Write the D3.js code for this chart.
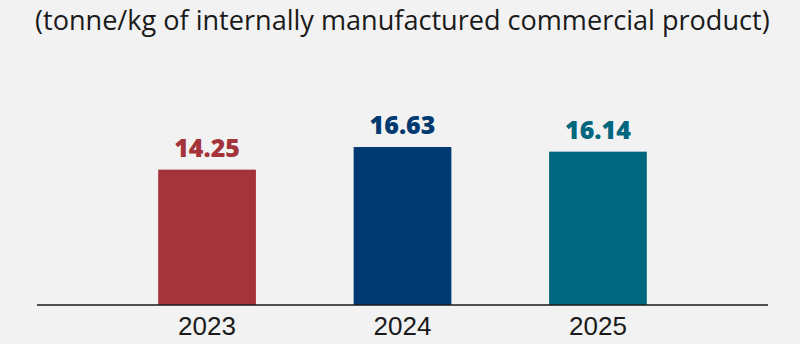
<!DOCTYPE html>
<html>
<head>
<meta charset="utf-8">
<script src="https://cdn.jsdelivr.net/npm/d3@7"></script>
<style>
  body { margin: 0; background: #f2f2f2; }
  svg { display: block; }
</style>
</head>
<body>
<svg width="800" height="344"></svg>
<script>
var years = ["2023", "2024", "2025"];
var values = [14.25, 16.63, 16.14];
var colors = ["#a4343a", "#003a70", "#00677f"];
var subtitle = "(tonne/kg of internally manufactured commercial product)";

var svg = d3.select("svg"),
    baseY = 305,
    left = 37,
    right = 768;

svg.append("rect")
  .attr("width", 800)
  .attr("height", 344)
  .attr("fill", "#f2f2f2");

// subtitle, squeezed to the same width as the reference
var title = svg.append("text")
  .attr("x", 35)
  .attr("y", 30)
  .attr("font-family", "'Open Sans', sans-serif")
  .attr("font-size", "24px")
  .attr("fill", "#1a1a1a")
  .text(subtitle);
var tw = title.node().getComputedTextLength();
title.attr("font-size", (24 * 735 / tw) + "px");

var x = d3.scaleBand()
  .domain(years)
  .range([left, right])
  .paddingInner(0.5)
  .paddingOuter(0.62);

var y = d3.scaleLinear()
  .domain([0, 20])
  .range([baseY, 115]);

var data = years.map(function(d, i) { return {year: d, value: values[i], color: colors[i]}; });

svg.selectAll(".bar")
  .data(data)
  .enter().append("rect")
  .attr("class", "bar")
  .attr("x", function(d) { return x(d.year); })
  .attr("y", function(d) { return y(d.value); })
  .attr("width", x.bandwidth())
  .attr("height", function(d) { return baseY - y(d.value); })
  .attr("fill", function(d) { return d.color; });

svg.selectAll(".val")
  .data(data)
  .enter().append("text")
  .attr("class", "val")
  .attr("x", function(d) { return x(d.year) + x.bandwidth() / 2; })
  .attr("y", function(d) { return y(d.value) - 13; })
  .attr("text-anchor", "middle")
  .attr("font-family", "'Open Sans', sans-serif")
  .attr("font-weight", "800")
  .attr("font-size", "25px")
  .attr("fill", function(d) { return d.color; })
  .text(function(d) { return d.value.toFixed(2); });

var xAxis = svg.append("g")
  .attr("transform", "translate(0," + baseY + ")")
  .call(d3.axisBottom(x).tickSize(0).tickPadding(12));

xAxis.select(".domain")
  .attr("d", "M" + left + ",0H" + right)
  .attr("stroke", "#1a1a1a")
  .attr("stroke-width", 1.5);

xAxis.selectAll("text")
  .attr("font-family", "'Liberation Sans', Arial, sans-serif")
  .attr("font-size", "26px")
  .attr("fill", "#1a1a1a")
  .attr("dy", "0.71em");
</script>
</body>
</html>
